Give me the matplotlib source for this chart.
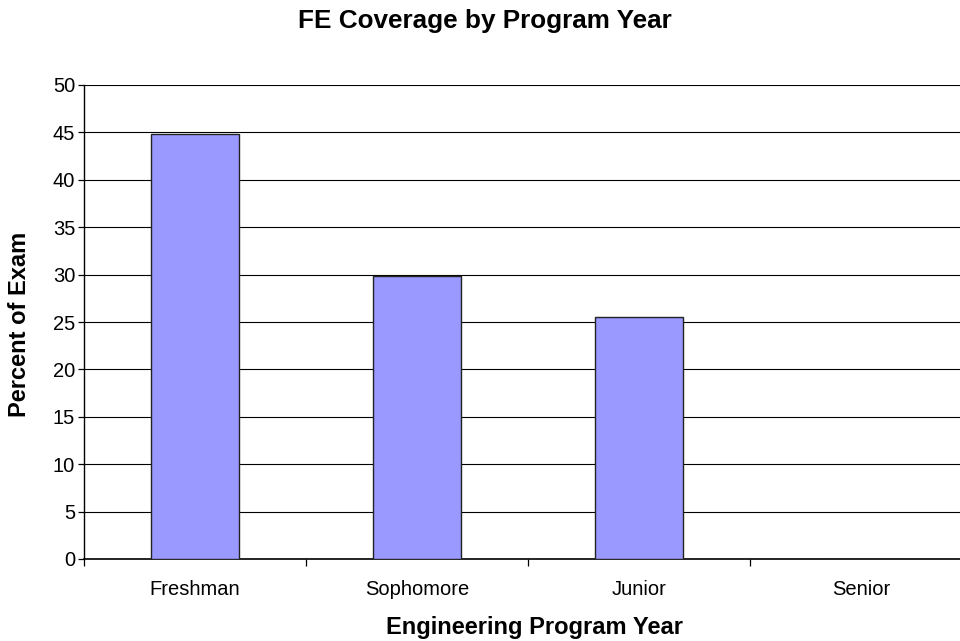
import numpy as np
import matplotlib
matplotlib.use("Agg")
import matplotlib.pyplot as plt

plt.rcParams["font.family"] = ["Liberation Sans", "DejaVu Sans"]

years = ["Freshman", "Sophomore", "Junior", "Senior"]
percent = [44.8, 29.8, 25.5, 0.0]

W, H = 960, 641
fig = plt.figure(figsize=(W / 100, H / 100), dpi=100)
# plot area runs past the right edge of the picture, as in the reference
ax = fig.add_axes([84 / W, 1 - 559 / H, 888 / W, 474 / H])

x = np.arange(len(years))
ax.bar(x, percent, width=0.40, color="#9999ff", edgecolor="#222222", linewidth=1.0, zorder=3)

ax.set_xlim(-0.5, len(years) - 0.5)
ax.set_ylim(0, 50)
ax.set_yticks(np.arange(0, 51, 5))
ax.yaxis.grid(True, color="black", linewidth=0.8, zorder=0)
ax.set_axisbelow(True)

# category labels centred, tick marks on the boundaries
ax.set_xticks(np.arange(-0.5, len(years) + 0.5, 1))
ax.set_xticklabels([])
ax.set_xticks(x, minor=True)
ax.set_xticklabels(years, minor=True)
ax.tick_params(axis="x", which="minor", length=0, pad=15, labelsize=14.5)
ax.tick_params(axis="x", which="major", direction="out", length=5, width=0.9)
ax.tick_params(axis="y", direction="out", length=4.3, width=0.9, labelsize=14.5, pad=2)

for side in ("top", "right"):
    ax.spines[side].set_visible(False)
ax.spines["left"].set_linewidth(1.0)
ax.spines["bottom"].set_linewidth(1.2)

fig.text(20 / W, 1 - 324 / H, "Percent of Exam", rotation=90, ha="center", va="center",
         fontsize=17, fontweight="bold")
fig.text(535 / W, 1 - 634 / H, "Engineering Program Year", ha="center", va="baseline",
         fontsize=17, fontweight="bold")
fig.text(485 / W, 1 - 28 / H, "FE Coverage by Program Year", ha="center", va="baseline",
         fontsize=18.8, fontweight="bold")

fig.savefig("out.png", dpi=100)
